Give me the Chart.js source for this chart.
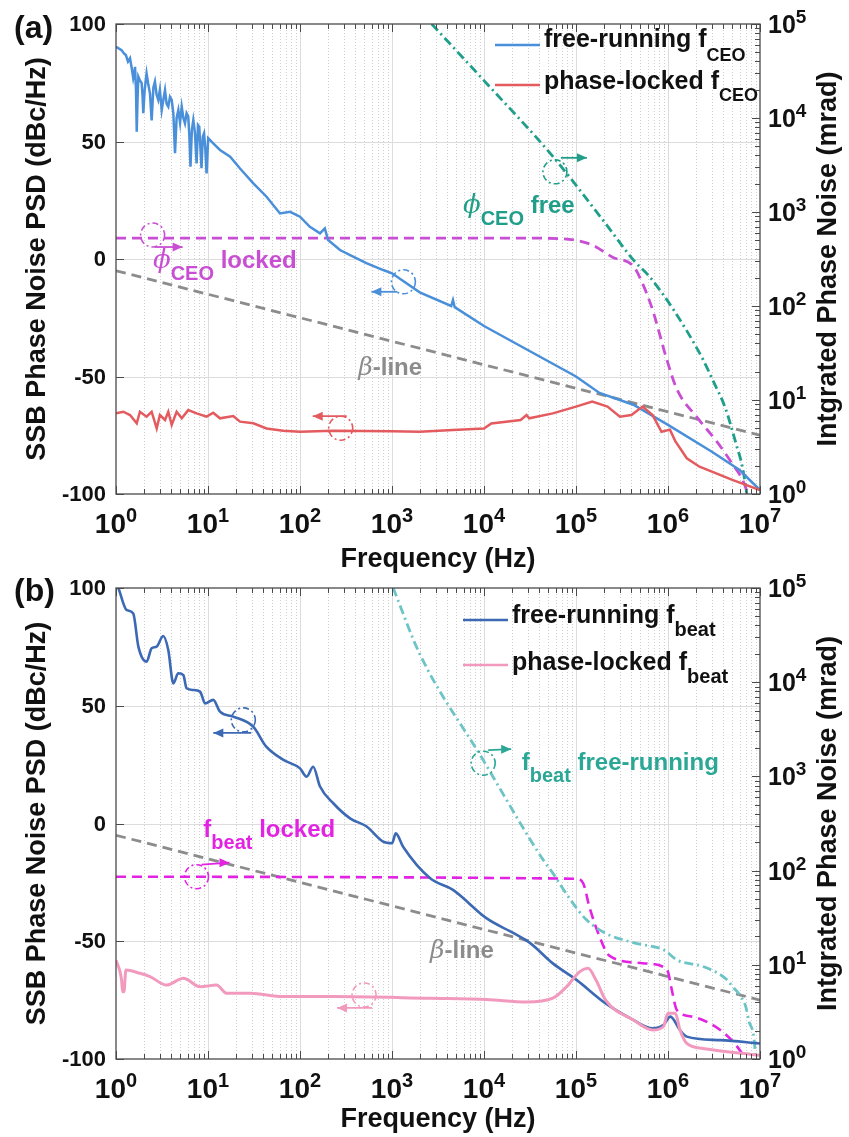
<!DOCTYPE html>
<html>
<head>
<meta charset="utf-8">
<script src="https://cdn.jsdelivr.net/npm/chart.js@4.4.1/dist/chart.umd.min.js"></script>
<style>
  html, body { margin: 0; padding: 0; background: #fff; }
  #wrap { position: relative; width: 849px; height: 1137px; overflow: hidden; }
  #wrap canvas { position: absolute; left: 0; }
</style>
</head>
<body>
<div id="wrap">
  <canvas id="chartA" width="849" height="580" style="top:0px"></canvas>
  <canvas id="chartB" width="849" height="565" style="top:572px"></canvas>
</div>
<script>
// ---------- panel (a): f_CEO ----------
const freeA_f = [1, 1.08, 1.15, 1.22, 1.28, 1.35, 1.42, 1.5, 1.54, 1.58, 1.61, 1.65, 1.68, 1.72, 1.75, 1.82, 1.9, 1.94, 1.98, 2.05,
  2.15, 2.25, 2.34, 2.44, 2.55, 2.65, 2.76, 2.88, 3.0, 3.14, 3.28, 3.41, 3.55, 3.7, 3.86, 4.03, 4.2, 4.38, 4.56, 4.76,
  4.97, 5.18, 5.4, 5.62, 5.85, 6.1, 6.28, 6.45, 6.68, 6.92, 7.2, 7.52, 7.78, 8.03, 8.25, 8.5, 8.78, 9.06, 9.35, 9.65,
  10.05, 11.4, 13.5, 17.4, 22.3, 31.1, 43.3, 60.6, 77.9, 100, 128, 165, 186, 202, 272, 378, 527, 803, 1000, 2000,
  4400, 4600, 4800, 1e4, 1e5, 1.8e5, 4.2e5, 1e6, 3e6, 6e6, 1e7];
const freeA_db = [90.3, 89.5, 88.9, 87.5, 86.8, 84, 85.4, 80, 76.9, 79, 81.8, 72, 54.2, 70, 77.6, 76, 74.8, 70, 62, 72,
  79, 74, 70.5, 59, 73, 75.5, 70, 67.7, 72, 63.4, 68, 71.9, 66, 64.8, 69, 67.7, 62, 45, 60, 63.4,
  58, 64.8, 60, 57.7, 62, 60.6, 52, 39.3, 55, 59.1, 54, 40.7, 57, 56.3, 48, 38.6, 52, 53.5, 47, 36.4,
  51.4, 49.2, 46.4, 43.5, 38.5, 32.2, 26.5, 19.4, 20.1, 18, 13.7, 10.9, 13, 8.1, 3.8, 1.0, -1.8, -4.7, -6.1, -14.2,
  -20, -17.5, -20.5, -28.5, -50, -57, -62, -70.6, -82, -89.8, -98.3];

const lockA_f = [1, 1.2, 1.42, 1.68, 1.82, 2.15, 2.44, 2.77, 3.0, 3.41, 3.7, 4.03, 4.56, 5.18, 6.1, 7.52, 9.65, 11.4, 13.5, 18.8,
  22.3, 31.1, 43.3, 65.7, 100, 230, 1000, 2000, 4600, 1e4, 1.2e4, 2.5e4, 2.9e4, 3.1e4, 5.6e4, 1e5, 1.5e5, 2.2e5, 3e5, 4e5,
  5.3e5, 6.8e5, 8.5e5, 1.05e6, 1.2e6, 1.6e6, 2.2e6, 3e6, 5e6, 1e7];
const lockA_db = [-65.7, -65, -66.4, -69.9, -65, -67.1, -65, -72.1, -66.4, -68.5, -65, -70.6, -65, -67.8, -64.3, -65.7, -67.1, -65.4, -67.8, -66.8,
  -69.2, -69.9, -72.1, -73.1, -73.5, -73.1, -73.3, -73.5, -72.8, -72.1, -70, -68.5, -66.4, -67.8, -65.7, -62.8, -60.7, -62.8, -67.1, -66.4,
  -62.8, -66.4, -73.5, -72.6, -77.5, -84.8, -88.4, -90.5, -94, -98.3];

const phiLockA_f = [1, 3e4, 7e4, 1.5e5, 2.5e5, 4.2e5, 5.2e5, 6.8e5, 9.7e5, 1.25e6, 2.05e6, 3.4e6, 5e6, 6.5e6, 7.4e6];
const phiLockA = [527, 527, 520, 446, 330, 265, 180, 91, 27, 13, 6.6, 3.6, 2.1, 1.4, 1.0];

const phiFreeA_f = [2700, 1e4, 5.6e4, 2e5, 4.2e5, 6.3e5, 1.15e6, 2.4e6, 3e6, 4.2e6, 5.6e6, 6.4e6, 7.2e6];
const phiFreeA = [1e5, 2.5e4, 3900, 800, 309, 205, 91, 27, 17, 8.2, 3.2, 2.0, 1.0];

// ---------- panel (b): f_beat ----------
const freeB_f = [1, 1.06, 1.3, 1.54, 1.75, 2.15, 2.44, 2.76, 3.26, 3.7, 4.2, 4.75, 5.4, 5.85, 6.9, 8.2, 9.3, 11.4, 13.5, 18.8,
  31, 43, 66, 100, 118, 139, 165, 230, 350, 530, 800, 1000, 1100, 1320, 2600, 4600, 1.07e4, 2.1e4, 3.2e4, 5.6e4,
  1.02e5, 2.1e5, 4.2e5, 6.8e5, 8.9e5, 1.06e6, 1.35e6, 1.6e6, 3.7e6, 1e7];
const freeB_db = [102, 100, 90.7, 89.2, 75.1, 68.7, 74.4, 75.1, 79.6, 73.7, 59.5, 63.8, 63, 57.4, 56.7, 56, 51, 52.5, 47.5, 45.4,
  41.1, 32.6, 27, 23.4, 19.9, 24.1, 15.7, 8.6, 2.2, -1.3, -7.7, -8.4, -4.2, -9.9, -23.3, -28.2, -40.3, -46.6, -50.9, -59.4,
  -66.5, -76.4, -83.4, -87, -85.6, -82, -87.7, -90.5, -92, -93.4];

const lockB_f = [1, 1.15, 1.18, 1.22, 1.28, 1.82, 2.34, 3.55, 5.4, 8.2, 12.4, 16, 28.6, 66, 230, 2600, 1.07e4, 2.9e4, 5.6e4, 7.9e4,
  1.1e5, 1.35e5, 1.65e5, 2.1e5, 4.2e5, 6.8e5, 8.9e5, 1e6, 1.2e6, 1.35e6, 1.6e6, 2.4e6, 1e7];
const lockB_db = [-58, -66.5, -71.4, -71.4, -62.2, -63.6, -65, -68.6, -65.7, -69.3, -68.6, -72.1, -72.1, -73.5, -73.5, -74.2, -74.7, -75.8, -74.2, -69.3,
  -62.9, -61.5, -66.5, -75, -83.4, -87.7, -86.3, -80.6, -80.6, -87.7, -93.4, -95.5, -98.4];

const fbLock_f = [1, 1e5, 1.2e5, 1.4e5, 1.8e5, 2.3e5, 5.3e5, 8.9e5, 1e6, 1.1e6, 1.25e6, 1.9e6, 3.7e6, 5.5e6, 7e6];
const fbLock = [86, 82, 73, 41, 20, 12.5, 10.4, 9.5, 8.4, 5.4, 3.3, 2.8, 2.03, 1.4, 1.0];

const fbFree_f = [1030, 2000, 9800, 3.2e4, 4.4e4, 5.6e4, 8.7e4, 1.3e5, 2.1e5, 4.5e5, 9e5, 1.26e6, 2.4e6, 4.4e6, 5e6, 6e6, 7e6, 7.6e6, 8.5e6, 9e6];
const fbFree = [1e5, 2e4, 1490, 211, 130, 94, 49, 30, 21.6, 16.9, 14.4, 11.2, 9.6, 6.9, 5.9, 4.8, 3.6, 2.5, 1.8, 1.05];

// beta-line (same straight line in both panels)
const beta_f = [1, 1e7];
const beta_db = [-5, -75];

// axis ticks
const leftTicks = [-100, -50, 0, 50, 100];
const xDecades = [0, 1, 2, 3, 4, 5, 6, 7];
const rightDecades = [0, 1, 2, 3, 4, 5];

const SANS = '"Liberation Sans", Arial, sans-serif';
const SERIF = '"DejaVu Serif", "Liberation Serif", serif';
const GRAY = '#8c8c8c';

function pts(xs, ys) {
  return xs.map((x, i) => ({ x: x, y: ys[i] }));
}

function minorLog(e0, e1) {
  const out = [];
  for (let e = e0; e < e1; e++) {
    for (let m = 1; m < 10; m++) out.push({ v: m * Math.pow(10, e), major: m === 1 });
  }
  out.push({ v: Math.pow(10, e1), major: true });
  return out;
}

function richText(ctx, parts, x, y, align) {
  let w = 0;
  parts.forEach(p => { ctx.font = p.font; w += ctx.measureText(p.t).width; });
  let cx = align === 'center' ? x - w / 2 : x;
  parts.forEach(p => {
    ctx.font = p.font;
    ctx.fillStyle = p.color || '#111';
    ctx.fillText(p.t, cx, y + (p.dy || 0));
    cx += ctx.measureText(p.t).width;
  });
}

const txt = (t, color) => ({ t: t, font: 'bold 24px ' + SANS, color: color });
const sub = (t, color, size) => ({ t: t, font: 'bold ' + (size || 20) + 'px ' + SANS, color: color, dy: 12 });
const phi = color => ({ t: '\u03D5', font: 'italic 26px ' + SERIF, color: color });
const beta = color => ({ t: '\u03B2', font: 'italic 25px ' + SERIF, color: color });

function makePanel(canvasId, cfg) {
  const framePlugin = {
    id: 'frame',
    beforeDatasetsDraw(chart) {
      const ctx = chart.ctx, a = chart.chartArea, xs = chart.scales.x, ys = chart.scales.y;
      ctx.save();
      ctx.lineWidth = 1;
      minorLog(0, 7).forEach(t => {
        if (t.v <= 1 || t.v >= 1e7) return;
        const px = Math.round(xs.getPixelForValue(t.v)) + 0.5;
        ctx.strokeStyle = t.major ? '#dcdcdc' : '#cfcfcf';
        ctx.setLineDash(t.major ? [] : [1, 2]);
        ctx.beginPath(); ctx.moveTo(px, a.top); ctx.lineTo(px, a.bottom); ctx.stroke();
      });
      ctx.setLineDash([]);
      ctx.strokeStyle = '#dcdcdc';
      leftTicks.forEach(v => {
        if (v === -100 || v === 100) return;
        const py = Math.round(ys.getPixelForValue(v)) + 0.5;
        ctx.beginPath(); ctx.moveTo(a.left, py); ctx.lineTo(a.right, py); ctx.stroke();
      });
      ctx.restore();
    },
    afterDatasetsDraw(chart) {
      const ctx = chart.ctx, a = chart.chartArea;
      const xs = chart.scales.x, ys = chart.scales.y, yr = chart.scales.y2;
      ctx.save();

      // circle + arrow markers showing which axis a curve belongs to
      cfg.marks.forEach(m => {
        const cx = xs.getPixelForValue(m.f), cy = ys.getPixelForValue(m.db);
        ctx.strokeStyle = m.color; ctx.fillStyle = m.color; ctx.lineWidth = 1.6;
        ctx.setLineDash([6, 3, 2, 3]);
        ctx.beginPath(); ctx.arc(cx, cy, 12, 0, Math.PI * 2); ctx.stroke();
        ctx.setLineDash([]);
        const x0 = cx + m.ax0, y0 = cy + m.ay0, x1 = cx + m.ax1, y1 = cy + m.ay1;
        ctx.lineWidth = 1.8;
        ctx.beginPath(); ctx.moveTo(x0, y0); ctx.lineTo(x1, y1); ctx.stroke();
        const dir = Math.sign(x1 - x0);
        ctx.beginPath();
        ctx.moveTo(x1, y1); ctx.lineTo(x1 - dir * 10, y1 - 4.5); ctx.lineTo(x1 - dir * 10, y1 + 4.5);
        ctx.closePath(); ctx.fill();
      });

      // curve labels
      ctx.textAlign = 'left'; ctx.textBaseline = 'alphabetic';
      cfg.notes.forEach(n => richText(ctx, n.parts, xs.getPixelForValue(n.f), ys.getPixelForValue(n.db), 'left'));

      // legend
      cfg.legend.forEach(r => {
        ctx.strokeStyle = r.color; ctx.lineWidth = 2.5;
        ctx.beginPath(); ctx.moveTo(r.x0, r.yLine); ctx.lineTo(r.x0 + 45, r.yLine); ctx.stroke();
        richText(ctx, [
          { t: r.text, font: 'bold 25px ' + SANS, color: '#111' },
          { t: r.sub, font: 'bold ' + cfg.legendSub + 'px ' + SANS, color: '#111', dy: r.subDy }
        ], r.x0 + 49, r.base, 'left');
      });

      // axes box
      ctx.strokeStyle = '#4a4a4a'; ctx.lineWidth = 1.3;
      ctx.strokeRect(a.left, a.top, a.right - a.left, a.bottom - a.top);

      // tick marks
      ctx.lineWidth = 1;
      ctx.beginPath();
      minorLog(0, 7).forEach(t => {
        const px = Math.round(xs.getPixelForValue(t.v)) + 0.5;
        const len = t.major ? 8 : 5;
        ctx.moveTo(px, a.bottom); ctx.lineTo(px, a.bottom - len);
        ctx.moveTo(px, a.top); ctx.lineTo(px, a.top + len);
      });
      leftTicks.forEach(v => {
        const py = Math.round(ys.getPixelForValue(v)) + 0.5;
        ctx.moveTo(a.left, py); ctx.lineTo(a.left + 8, py);
      });
      minorLog(0, 5).forEach(t => {
        const py = Math.round(yr.getPixelForValue(t.v)) + 0.5;
        ctx.moveTo(a.right, py); ctx.lineTo(a.right - (t.major ? 8 : 5), py);
      });
      ctx.stroke();

      // left tick labels
      ctx.fillStyle = '#111';
      ctx.font = 'bold 22px ' + SANS;
      ctx.textAlign = 'right'; ctx.textBaseline = 'middle';
      leftTicks.forEach(v => ctx.fillText(String(v), a.left - 10, ys.getPixelForValue(v) + 1));

      // bottom tick labels 10^k
      ctx.textAlign = 'left'; ctx.textBaseline = 'alphabetic';
      xDecades.forEach(k => {
        richText(ctx, [
          { t: '10', font: 'bold 28px ' + SANS },
          { t: String(k), font: 'bold 20px ' + SANS, dy: -11 }
        ], xs.getPixelForValue(Math.pow(10, k)), a.bottom + 39, 'center');
      });

      // right tick labels 10^k
      rightDecades.forEach(k => {
        richText(ctx, [
          { t: '10', font: 'bold 25px ' + SANS },
          { t: String(k), font: 'bold 19px ' + SANS, dy: -10 }
        ], a.right + 8, yr.getPixelForValue(Math.pow(10, k)) + 9, 'left');
      });

      // axis titles
      const midY = (a.top + a.bottom) / 2;
      ctx.font = 'bold 27px ' + SANS;
      ctx.textAlign = 'center'; ctx.textBaseline = 'middle';
      ctx.save(); ctx.translate(38, midY); ctx.rotate(-Math.PI / 2);
      ctx.fillText('SSB Phase Noise PSD (dBc/Hz)', 0, 0); ctx.restore();
      ctx.save(); ctx.translate(829, midY); ctx.rotate(-Math.PI / 2);
      ctx.fillText('Intgrated Phase Noise (mrad)', 0, 0); ctx.restore();
      ctx.textBaseline = 'alphabetic';
      ctx.fillText('Frequency (Hz)', (a.left + a.right) / 2, a.bottom + cfg.xTitleGap);

      // panel tag
      ctx.textAlign = 'left';
      ctx.font = 'bold 32px ' + SANS;
      ctx.fillText(cfg.tag, 14, a.top + cfg.tagGap);

      ctx.restore();
    }
  };

  const ds = cfg.series.map(s => ({
    label: s.label,
    data: pts(s.f, s.v),
    yAxisID: s.right ? 'y2' : 'y',
    borderColor: s.color,
    borderWidth: s.width || 2.5,
    borderDash: s.dash || [],
    pointRadius: 0,
    fill: false,
    tension: s.smooth ? 0.4 : 0,
    cubicInterpolationMode: s.smooth ? 'monotone' : 'default'
  }));

  return new Chart(document.getElementById(canvasId), {
    type: 'line',
    data: { datasets: ds },
    options: {
      responsive: false,
      animation: false,
      devicePixelRatio: 1,
      events: [],
      layout: { padding: { top: cfg.padTop, left: 0, right: 0, bottom: 0 } },
      plugins: { legend: { display: false }, tooltip: { enabled: false } },
      scales: {
        x: {
          type: 'logarithmic', min: 1, max: 1e7,
          ticks: { display: false }, grid: { display: false }, border: { display: false },
          afterFit: s => { s.height = cfg.xAxisH; }
        },
        y: {
          type: 'linear', position: 'left', min: -100, max: 100,
          ticks: { display: false }, grid: { display: false }, border: { display: false },
          afterFit: s => { s.width = 116; }
        },
        y2: {
          type: 'logarithmic', position: 'right', min: 1, max: 1e5,
          ticks: { display: false }, grid: { display: false }, border: { display: false },
          afterFit: s => { s.width = 89; }
        }
      }
    },
    plugins: [framePlugin]
  });
}

// colours
const blueA = '#4a8fd9', redA = '#e35b5e', magA = '#c84fd3', tealA = '#1f9e8a';
const blueB = '#3c69b4', pinkB = '#f29abd', magB = '#e223e2', tealB = '#6cc4c6', tealTxtB = '#2aa795';

makePanel('chartA', {
  tag: '(a)', tagGap: 14, padTop: 24, xAxisH: 86, xTitleGap: 73, legendSub: 18,
  series: [
    { label: 'phase-locked fCEO', f: lockA_f, v: lockA_db, color: redA },
    { label: 'free-running fCEO', f: freeA_f, v: freeA_db, color: blueA },
    { label: 'phi CEO free', f: phiFreeA_f, v: phiFreeA, color: tealA, right: true, dash: [9, 4, 2, 4], smooth: true, width: 2.8 },
    { label: 'phi CEO locked', f: phiLockA_f, v: phiLockA, color: magA, right: true, dash: [10, 6], smooth: true, width: 2.8 },
    { label: 'beta-line', f: beta_f, v: beta_db, color: GRAY, dash: [10, 6], width: 2.8 }
  ],
  legend: [
    { color: blueA, x0: 495, yLine: 45, base: 47, text: 'free-running f', sub: 'CEO', subDy: 14 },
    { color: redA, x0: 495, yLine: 85, base: 89, text: 'phase-locked f', sub: 'CEO', subDy: 12 }
  ],
  marks: [
    { f: 2.5, db: 10.2, color: magA, ax0: 2, ay0: 12, ax1: 30, ay1: 12 },
    { f: 1330, db: -9.7, color: blueA, ax0: -6, ay0: 10, ax1: -32, ay1: 10 },
    { f: 277, db: -72, color: redA, ax0: 6, ay0: -12, ax1: -28, ay1: -12 },
    { f: 5.9e4, db: 37.1, color: tealA, ax0: 6, ay0: -14, ax1: 32, ay1: -14 }
  ],
  notes: [
    { f: 2.52, db: -3.8, parts: [phi(magA), sub('CEO', magA), txt(' locked', magA)] },
    { f: 5.9e3, db: 19.6, parts: [phi(tealA), sub('CEO', tealA), txt(' free', tealA)] },
    { f: 430, db: -49.4, parts: [beta(GRAY), txt('-line', GRAY)] }
  ]
});

makePanel('chartB', {
  tag: '(b)', tagGap: 13, padTop: 16, xAxisH: 78, xTitleGap: 68, legendSub: 20,
  series: [
    { label: 'phase-locked fbeat', f: lockB_f, v: lockB_db, color: pinkB, width: 3, smooth: true },
    { label: 'free-running fbeat', f: freeB_f, v: freeB_db, color: blueB, width: 2.6, smooth: true },
    { label: 'fbeat free-running', f: fbFree_f, v: fbFree, color: tealB, right: true, dash: [9, 4, 2, 4], smooth: true, width: 2.8 },
    { label: 'fbeat locked', f: fbLock_f, v: fbLock, color: magB, right: true, dash: [10, 6], smooth: true, width: 2.6 },
    { label: 'beta-line', f: beta_f, v: beta_db, color: GRAY, dash: [10, 6], width: 2.8 }
  ],
  legend: [
    { color: blueB, x0: 463, yLine: 48, base: 51, text: 'free-running f', sub: 'beat', subDy: 13 },
    { color: pinkB, x0: 463, yLine: 93, base: 98, text: 'phase-locked f', sub: 'beat', subDy: 13 }
  ],
  marks: [
    { f: 24.2, db: 44, color: blueB, ax0: 8, ay0: 13, ax1: -30, ay1: 13 },
    { f: 7.5, db: -22.6, color: magB, ax0: 5, ay0: -12, ax1: 33, ay1: -14 },
    { f: 497, db: -72.8, color: pinkB, ax0: 8, ay0: 13, ax1: -27, ay1: 13 },
    { f: 9.8e3, db: 25.6, color: tealTxtB, ax0: 5, ay0: -13, ax1: 28, ay1: -14 }
  ],
  notes: [
    { f: 8.9, db: -5.7, parts: [txt('f', magB), sub('beat', magB), txt(' locked', magB)] },
    { f: 2.57e4, db: 22.7, parts: [txt('f', tealTxtB), sub('beat', tealTxtB), txt(' free-running', tealTxtB)] },
    { f: 2590, db: -57.1, parts: [beta(GRAY), txt('-line', GRAY)] }
  ]
});
</script>
</body>
</html>
